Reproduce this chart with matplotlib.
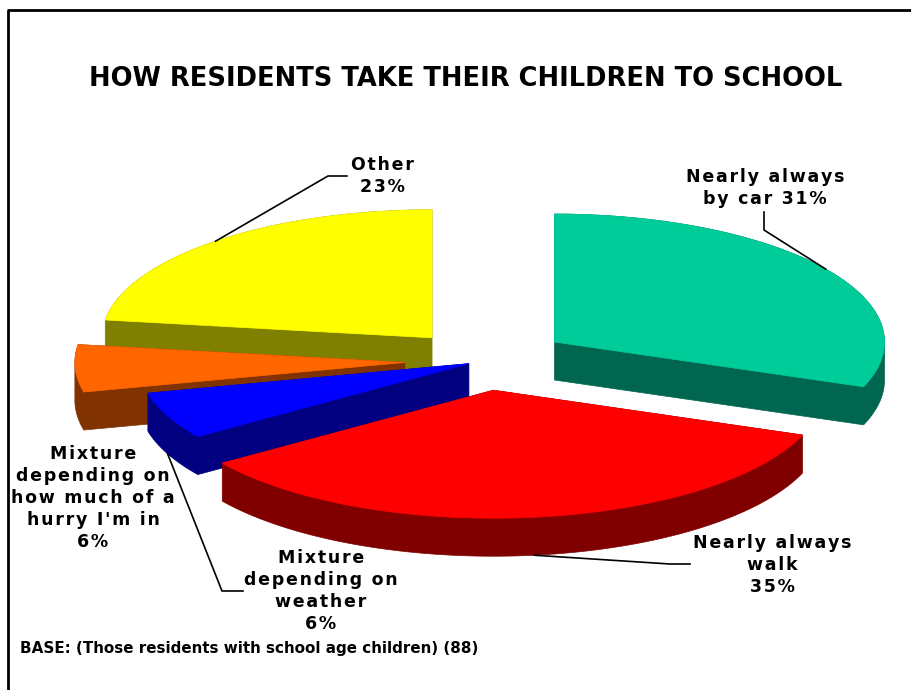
import numpy as np
import matplotlib.pyplot as plt
from matplotlib.patches import Polygon

# survey answers, clockwise from 12 o'clock
categories = ['Nearly always by car', 'Nearly always walk', 'Mixture depending on weather',
              "Mixture depending on how much of a hurry I'm in", 'Other']
values = [31, 35, 6, 6, 23]
label_texts = ['Nearly always\nby car 31%', 'Nearly always\nwalk\n35%',
               'Mixture\ndepending on\nweather\n6%',
               "Mixture\ndepending on\nhow much of a\nhurry I'm in\n6%", 'Other\n23%']

top_colors = ['#00CC99', '#FF0000', '#0000FF', '#FF6600', '#FFFF00']
side_colors = ['#006650', '#800000', '#000080', '#803300', '#808000']
explode = [0.26, 0.23, 0.05, 0.24, 0.24]

# pie geometry (pixel space)
CX, CY = 484, 361
RX, RY = 330, 128
DEPTH = 38

# label placement: text centre, elbow of leader line, end of leader line (None = no leader)
label_pos = [(765, 188), (772, 565), (321, 591), (93, 498), (382, 176)]
leader_elbow = [(764, 230), (670, 564), (222, 591), None, (328, 176)]
leader_end = [(764, 212), (690, 564), (243, 591), None, (347, 176)]


def spaced(s):
    # open up the tracking a little with hair spaces
    return '\n'.join('\u200a'.join(line) for line in s.split('\n'))


def rim(theta, ox, oy, drop=0.0):
    t = np.radians(theta)
    return np.column_stack([ox + RX * np.cos(t), oy - RY * np.sin(t) + drop])


def convex_hull(pts):
    pts = sorted(set(map(tuple, np.round(pts, 3))))

    def cross(o, a, b):
        return (a[0] - o[0]) * (b[1] - o[1]) - (a[1] - o[1]) * (b[0] - o[0])

    lower, upper = [], []
    for p in pts:
        while len(lower) >= 2 and cross(lower[-2], lower[-1], p) <= 0:
            lower.pop()
        lower.append(p)
    for p in reversed(pts):
        while len(upper) >= 2 and cross(upper[-2], upper[-1], p) <= 0:
            upper.pop()
        upper.append(p)
    return np.array(lower[:-1] + upper[:-1])


fig = plt.figure(figsize=(9.11, 6.9), dpi=100)
ax = fig.add_axes([0, 0, 1, 1])
ax.set_xlim(0, 911)
ax.set_ylim(690, 0)
ax.axis('off')

total = float(sum(values))
starts = 90 - 360 * np.concatenate([[0], np.cumsum(values)[:-1]]) / total
ends = starts - 360 * np.array(values) / total
mids = (starts + ends) / 2

slices = []
for i in range(len(values)):
    ox = CX + explode[i] * RX * np.cos(np.radians(mids[i]))
    oy = CY - explode[i] * RY * np.sin(np.radians(mids[i]))
    slices.append((ox, oy))

# back slices first
order = np.argsort(-np.sin(np.radians(mids)))
for i in order:
    ox, oy = slices[i]
    arc = np.linspace(ends[i], starts[i], 120)
    top = np.vstack([[ox, oy], rim(arc, ox, oy)])
    bottom = top + [0, DEPTH]
    side = convex_hull(np.vstack([top, bottom]))
    ax.add_patch(Polygon(side, closed=True, facecolor=side_colors[i], edgecolor=side_colors[i], lw=0.5))
    ax.add_patch(Polygon(top, closed=True, facecolor=top_colors[i], edgecolor=top_colors[i], lw=0.5))

# labels with leader lines
for i in range(len(values)):
    ax.text(label_pos[i][0], label_pos[i][1], spaced(label_texts[i]), ha='center', va='center',
            fontsize=12.5, fontweight='bold', linespacing=1.3, color='black')
    if leader_elbow[i] is None:
        continue
    ox, oy = slices[i]
    s = np.sin(np.radians(mids[i]))
    anchor = rim(np.array([mids[i]]), ox, oy, DEPTH if s < 0 else 0)[0]
    ax.plot([anchor[0], leader_elbow[i][0], leader_end[i][0]],
            [anchor[1], leader_elbow[i][1], leader_end[i][1]], color='black', lw=1.2)

ax.text(466, 79, 'HOW RESIDENTS TAKE THEIR CHILDREN TO SCHOOL', ha='center', va='center',
        fontsize=18.5, fontweight='bold')
ax.text(20, 648, 'BASE: (Those residents with school age children) (88)', ha='left',
        va='center', fontsize=10.9, fontweight='bold')

# chart frame
ax.plot([7, 911], [10, 10], color='black', lw=2, solid_capstyle='butt')
ax.plot([8, 8], [10, 690], color='black', lw=2, solid_capstyle='butt')

fig.savefig('out.png', dpi=100)
